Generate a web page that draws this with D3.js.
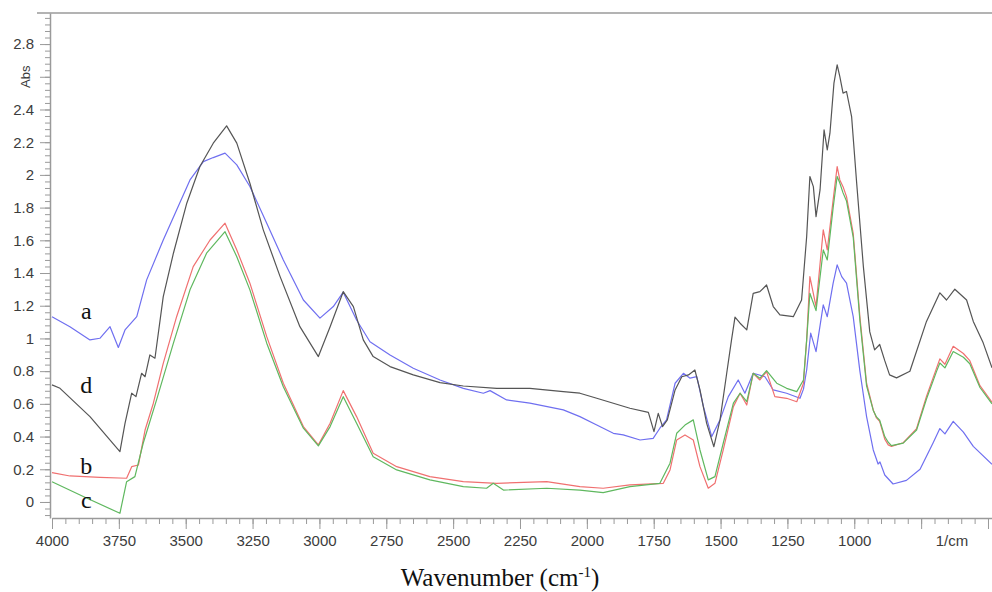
<!DOCTYPE html>
<html>
<head>
<meta charset="utf-8">
<script src="https://cdn.jsdelivr.net/npm/d3@7/dist/d3.min.js"></script>
<style>
  html, body { margin: 0; padding: 0; background: #fff; }
  svg { display: block; }
</style>
</head>
<body>
<svg id="chart" width="992" height="592"></svg>
<script>
// ---- Data (wavenumber cm^-1, absorbance) ----
const seriesA = [ // blue, label "a"
  [4000,1.133],[3933,1.072],[3858,0.991],[3821,1.001],[3783,1.072],[3752,0.945],[3727,1.052],
  [3683,1.133],[3646,1.358],[3584,1.602],[3534,1.786],[3484,1.969],[3434,2.081],[3397,2.106],
  [3353,2.133],[3309,2.061],[3260,1.929],[3197,1.705],[3135,1.480],[3060,1.235],[2998,1.124],
  [2948,1.195],[2911,1.283],[2861,1.113],[2811,0.980],[2736,0.899],[2649,0.818],[2549,0.746],
  [2462,0.695],[2387,0.665],[2362,0.681],[2300,0.624],[2213,0.604],[2088,0.563],[2026,0.522],
  [1963,0.471],[1901,0.420],[1864,0.410],[1801,0.379],[1752,0.389],[1727,0.451],[1702,0.502],
  [1670,0.726],[1639,0.787],[1614,0.757],[1589,0.766],[1564,0.583],[1533,0.400],[1502,0.502],
  [1471,0.644],[1434,0.746],[1409,0.665],[1378,0.787],[1334,0.766],[1303,0.685],[1253,0.665],
  [1203,0.634],[1190,0.690],[1178,0.807],[1163,1.032],[1143,0.919],[1116,1.205],[1101,1.133],
  [1079,1.338],[1064,1.450],[1047,1.378],[1029,1.338],[1004,1.133],[979,0.800],[954,0.522],
  [929,0.318],[911,0.232],[904,0.245],[886,0.165],[855,0.110],[805,0.132],[754,0.200],
  [705,0.362],[680,0.449],[661,0.416],[630,0.493],[592,0.427],[555,0.340],[485,0.230]
];
const seriesD = [ // black, label "d"
  [4000,0.716],[3970,0.695],[3858,0.522],[3746,0.308],[3727,0.481],[3702,0.665],[3686,0.644],
  [3665,0.787],[3652,0.766],[3634,0.899],[3615,0.879],[3584,1.256],[3546,1.521],[3496,1.827],
  [3447,2.051],[3397,2.194],[3347,2.300],[3309,2.194],[3260,1.949],[3210,1.664],[3147,1.378],
  [3073,1.072],[3004,0.889],[2960,1.072],[2911,1.286],[2873,1.195],[2836,0.991],[2799,0.889],
  [2736,0.828],[2649,0.777],[2549,0.730],[2462,0.709],[2337,0.695],[2213,0.695],[2088,0.675],
  [2026,0.665],[1963,0.634],[1839,0.573],[1770,0.548],[1749,0.430],[1733,0.542],[1717,0.461],
  [1699,0.502],[1670,0.685],[1645,0.766],[1620,0.777],[1596,0.807],[1577,0.685],[1552,0.481],
  [1525,0.338],[1502,0.502],[1477,0.787],[1459,0.991],[1446,1.130],[1427,1.093],[1402,1.052],
  [1378,1.276],[1353,1.286],[1328,1.327],[1303,1.195],[1278,1.144],[1228,1.133],[1197,1.235],
  [1178,1.623],[1166,1.990],[1153,1.928],[1143,1.745],[1128,1.908],[1113,2.275],[1101,2.153],
  [1091,2.255],[1076,2.561],[1064,2.673],[1054,2.601],[1042,2.500],[1029,2.510],[1010,2.357],
  [991,1.949],[966,1.439],[942,1.040],[924,0.930],[905,0.963],[886,0.864],[868,0.777],
  [842,0.759],[792,0.799],[730,1.104],[680,1.279],[655,1.235],[624,1.301],[580,1.235],
  [555,1.104],[518,0.973],[485,0.820]
];
const seriesB = [ // red, label "b"
  [4000,0.179],[3933,0.159],[3821,0.151],[3721,0.145],[3702,0.216],[3677,0.226],[3652,0.440],
  [3621,0.604],[3584,0.848],[3534,1.133],[3472,1.439],[3409,1.602],[3353,1.705],[3309,1.541],
  [3260,1.338],[3197,1.011],[3135,0.726],[3060,0.461],[3004,0.349],[2960,0.481],[2911,0.681],
  [2861,0.522],[2799,0.298],[2711,0.216],[2587,0.155],[2462,0.124],[2337,0.114],[2150,0.124],
  [2026,0.094],[1939,0.084],[1839,0.104],[1714,0.114],[1689,0.196],[1664,0.379],[1633,0.410],
  [1602,0.379],[1577,0.216],[1546,0.084],[1521,0.114],[1490,0.318],[1452,0.583],[1427,0.665],
  [1402,0.593],[1378,0.787],[1353,0.746],[1328,0.797],[1297,0.644],[1253,0.634],[1215,0.613],
  [1190,0.726],[1178,0.991],[1166,1.378],[1143,1.195],[1116,1.664],[1101,1.541],[1079,1.847],
  [1064,2.051],[1054,1.969],[1042,1.928],[1029,1.867],[1004,1.643],[979,1.133],[954,0.726],
  [929,0.563],[917,0.514],[905,0.493],[886,0.384],[873,0.349],[861,0.340],[817,0.362],
  [767,0.449],[730,0.646],[692,0.820],[680,0.875],[661,0.842],[630,0.952],[592,0.908],
  [568,0.864],[530,0.711],[485,0.610]
];
const seriesC = [ // green, label "c"
  [4000,0.124],[3883,0.033],[3746,-0.069],[3721,0.124],[3690,0.155],[3659,0.359],[3609,0.624],
  [3546,0.971],[3484,1.297],[3422,1.521],[3353,1.653],[3309,1.500],[3260,1.297],[3197,0.971],
  [3135,0.705],[3060,0.451],[3004,0.343],[2960,0.461],[2911,0.644],[2861,0.481],[2799,0.277],
  [2711,0.196],[2587,0.135],[2462,0.094],[2375,0.084],[2350,0.114],[2312,0.073],[2150,0.084],
  [2026,0.073],[1939,0.057],[1839,0.094],[1727,0.114],[1689,0.237],[1664,0.420],[1633,0.470],
  [1602,0.502],[1577,0.318],[1546,0.135],[1521,0.155],[1490,0.359],[1452,0.604],[1427,0.665],
  [1402,0.613],[1378,0.787],[1353,0.757],[1328,0.803],[1290,0.726],[1253,0.695],[1215,0.675],
  [1190,0.746],[1178,0.991],[1166,1.276],[1143,1.170],[1116,1.541],[1101,1.480],[1079,1.800],
  [1064,1.990],[1054,1.950],[1042,1.890],[1029,1.840],[1004,1.620],[979,1.110],[954,0.710],
  [929,0.560],[917,0.520],[905,0.500],[886,0.400],[873,0.365],[861,0.345],[817,0.360],
  [767,0.440],[730,0.630],[692,0.800],[680,0.850],[661,0.820],[630,0.920],[592,0.885],
  [568,0.845],[530,0.700],[485,0.600]
];
const seriesNames = ["a", "d", "b", "c"];
const seriesColors = ["#6f6ff0", "#555555", "#f07070", "#5fb85f"];
const seriesData = [seriesA, seriesD, seriesB, seriesC];
const labelAnchors = [[3872, 1.12], [3872, 0.667], [3872, 0.171], [3872, -0.037]]; // label a,d,b,c baselines (data units)

const xMajorTicks = [4000, 3750, 3500, 3250, 3000, 2750, 2500, 2250, 2000, 1750, 1500, 1250, 1000, 750, 500];
const xTickLabels = ["4000", "3750", "3500", "3250", "3000", "2750", "2500", "2250", "2000", "1750", "1500", "1250", "1000", "", ""];
const yMajorTicks = [0, 0.2, 0.4, 0.6, 0.8, 1, 1.2, 1.4, 1.6, 1.8, 2, 2.2, 2.4, 2.6, 2.8];
const yTickLabels = ["0", "0.2", "0.4", "0.6", "0.8", "1", "1.2", "1.4", "1.6", "1.8", "2", "2.2", "2.4", "", "2.8"];
const xTitle = "Wavenumber (cm";
const xUnit = "1/cm";
const yTitle = "Abs";

// ---- Layout ----
const svg = d3.select("#chart");
const x = d3.scaleLinear().domain([4000, 485]).range([52, 992]);
const y = d3.scaleLinear().domain([-0.098, 2.99]).range([518, 13]);

const axisColor = "#9a9a9a";
const labelColor = "#3c3c3c";

// top border line
svg.append("line").attr("x1", 37).attr("x2", 992).attr("y1", y(2.99)).attr("y2", y(2.99))
  .attr("stroke", axisColor).attr("stroke-width", 1.5);

// x minor ticks
const xMinor = d3.range(4000, 484, -50);
const xMinorAxis = d3.axisBottom(x).tickValues(xMinor).tickSize(6).tickFormat("").tickSizeOuter(0);
svg.append("g").attr("transform", `translate(0,${y(-0.098)})`).call(xMinorAxis)
  .call(g => g.selectAll("line").attr("stroke", axisColor))
  .call(g => g.select(".domain").attr("stroke", axisColor).attr("stroke-width", 1.5));

const xAxis = d3.axisBottom(x).tickValues(xMajorTicks).tickSize(11).tickPadding(6)
  .tickFormat((d, i) => xTickLabels[i]).tickSizeOuter(0);
svg.append("g").attr("transform", `translate(0,${y(-0.098)})`).call(xAxis)
  .call(g => g.select(".domain").remove())
  .call(g => g.selectAll("line").attr("stroke", axisColor))
  .call(g => g.selectAll("text").attr("fill", labelColor)
    .attr("font-family", "Liberation Sans, Arial, sans-serif").attr("font-size", 15));

// y minor ticks
const yMinor = d3.range(-2, 75).map(i => +(i * 0.04).toFixed(2));
const yMinorAxis = d3.axisLeft(y).tickValues(yMinor).tickSize(5).tickFormat("").tickSizeOuter(0);
svg.append("g").attr("transform", `translate(50,0)`).call(yMinorAxis)
  .call(g => g.selectAll("line").attr("stroke", axisColor))
  .call(g => g.select(".domain").attr("stroke", axisColor).attr("stroke-width", 1.5));

const yAxis = d3.axisLeft(y).tickValues(yMajorTicks).tickSize(10).tickPadding(6)
  .tickFormat((d, i) => yTickLabels[i]).tickSizeOuter(0);
svg.append("g").attr("transform", `translate(50,0)`).call(yAxis)
  .call(g => g.select(".domain").remove())
  .call(g => g.selectAll("line").attr("stroke", axisColor))
  .call(g => g.selectAll("text").attr("fill", labelColor)
    .attr("font-family", "Liberation Sans, Arial, sans-serif").attr("font-size", 15));

// y title "Abs" (rotated, in place of the 2.6 label)
svg.append("text")
  .attr("transform", `translate(30,${y(2.6)}) rotate(-90)`)
  .attr("text-anchor", "middle")
  .attr("font-family", "Liberation Sans, Arial, sans-serif").attr("font-size", 13)
  .attr("fill", labelColor).text(yTitle);

// unit label at right of x axis
svg.append("text").attr("x", 952).attr("y", 545.5).attr("text-anchor", "middle")
  .attr("font-family", "Liberation Sans, Arial, sans-serif").attr("font-size", 15)
  .attr("fill", labelColor).text(xUnit);

// x title
const xt = svg.append("text").attr("x", 500).attr("y", 586).attr("text-anchor", "middle")
  .attr("font-family", "Liberation Serif, Times New Roman, serif").attr("font-size", 25)
  .attr("fill", "#111");
xt.append("tspan").text(xTitle);
xt.append("tspan").attr("dy", -9).attr("font-size", 15).text("-1");
xt.append("tspan").attr("dy", 9).text(")");

// ---- Lines ----
const line = d3.line().x(d => x(d[0])).y(d => y(d[1]));
svg.append("g").selectAll("path").data(seriesData).join("path")
  .attr("d", line)
  .attr("fill", "none")
  .attr("stroke", (d, i) => seriesColors[i])
  .attr("stroke-width", 1.2)
  .attr("stroke-linejoin", "round");

// series letters
svg.append("g").selectAll("text").data(seriesNames).join("text")
  .attr("x", (d, i) => x(labelAnchors[i][0]))
  .attr("y", (d, i) => y(labelAnchors[i][1]))
  .attr("text-anchor", "middle")
  .attr("font-family", "Liberation Serif, Times New Roman, serif").attr("font-size", 24)
  .attr("fill", "#111")
  .text(d => d);
</script>
</body>
</html>
